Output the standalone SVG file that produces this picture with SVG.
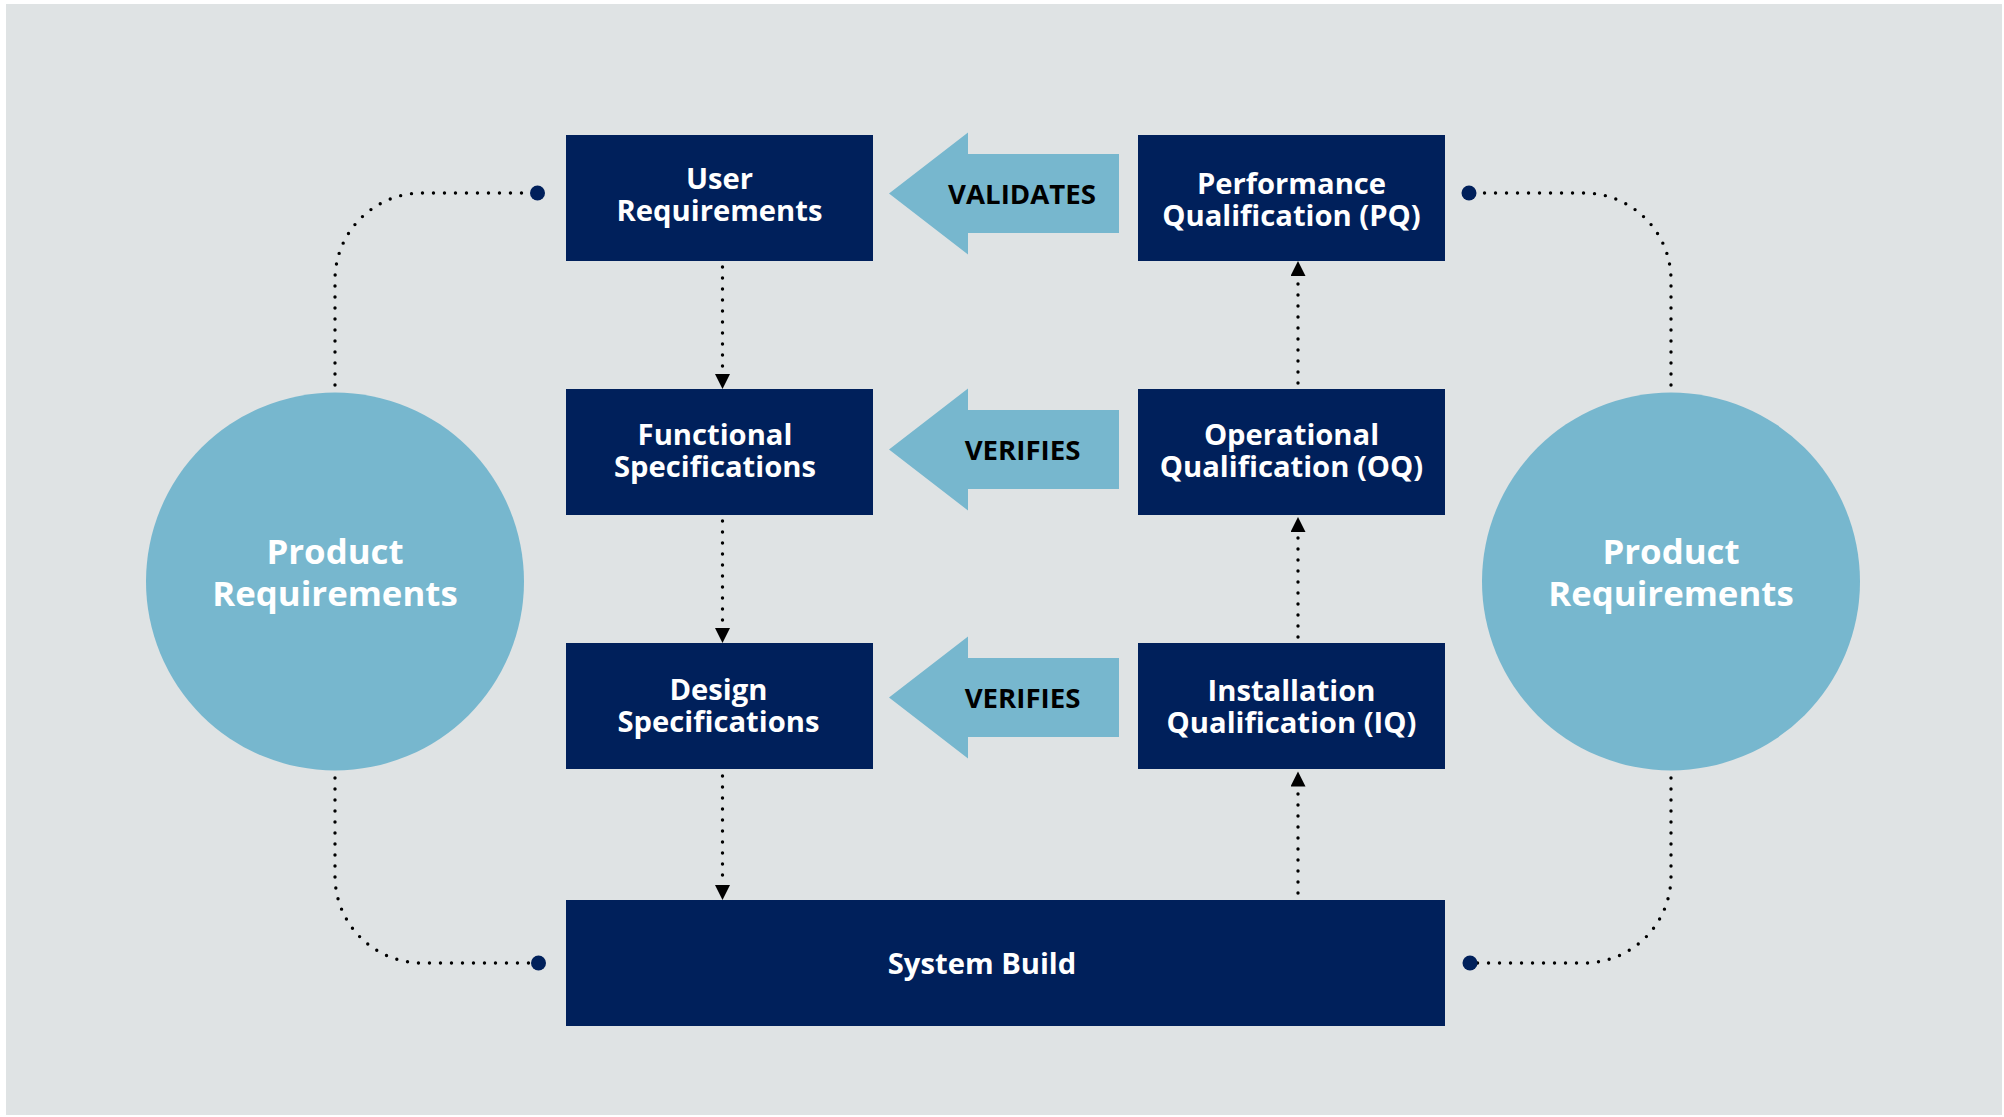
<svg xmlns="http://www.w3.org/2000/svg" width="2004" height="1117" viewBox="0 0 2004 1117">
<style>
.box{fill:#00205B}
.circ{fill:#77B7CE}
.big{fill:#77B7CE}
.t{font-family:"Open Sans","Noto Sans","Liberation Sans",sans-serif;font-weight:700;text-anchor:middle}
.w{fill:#FFFFFF;font-size:29.2px}
.pr{fill:#FFFFFF;font-size:34.8px}
.lbl{fill:#000000;font-size:27.6px}
.dot{fill:none;stroke:#000000;stroke-width:3.4;stroke-linecap:round;stroke-dasharray:0 11}
.end{fill:#00205B}
</style>
<defs>
<polygon id="bigArrow" points="0,0 79,-61 79,-39.5 230,-39.5 230,39.5 79,39.5 79,61"/>
<marker id="ah" markerUnits="userSpaceOnUse" markerWidth="16" markerHeight="16" refX="0" refY="7.5" orient="auto">
<path d="M0,0 L15,7.5 L0,15 Z" fill="#000000"/>
</marker>
</defs>
<rect x="6" y="4" width="1996" height="1111" fill="#DFE3E4"/>

<g id="connectors">
<path class="dot" d="M722.5 267 V 374" marker-end="url(#ah)"/>
<path class="dot" d="M722.5 521 V 628" marker-end="url(#ah)"/>
<path class="dot" d="M722.5 776 V 885" marker-end="url(#ah)"/>
<path class="dot" d="M1298 893 V 786.5" marker-end="url(#ah)"/>
<path class="dot" d="M1298 637 V 532" marker-end="url(#ah)"/>
<path class="dot" d="M1298 383 V 276" marker-end="url(#ah)"/>
<path class="dot" d="M335 385 V 280 C 335 232 374 193 422 193 H 530"/>
<path class="dot" d="M1671 385 V 280 C 1671 232 1632 193 1584 193 H 1476"/>
<path class="dot" d="M335 778 V 876 C 335 924 374 963 422 963 H 531"/>
<path class="dot" d="M1671 778 V 876 C 1671 924 1632 963 1584 963 H 1477"/>
<circle class="end" cx="537.5" cy="193" r="7.5"/>
<circle class="end" cx="1469" cy="193" r="7.5"/>
<circle class="end" cx="538.5" cy="963" r="7.5"/>
<circle class="end" cx="1470" cy="963" r="7.5"/>
</g>

<g id="validates">
<use href="#bigArrow" x="889" y="193.5" class="big"/>
<text class="t lbl" x="1022" y="204">VALIDATES</text>
</g>
<g id="verifies-1">
<use href="#bigArrow" x="889" y="449.5" class="big"/>
<text class="t lbl" x="1022.5" y="460">VERIFIES</text>
</g>
<g id="verifies-2">
<use href="#bigArrow" x="889" y="697.5" class="big"/>
<text class="t lbl" x="1022.5" y="708">VERIFIES</text>
</g>

<g id="user-requirements">
<rect class="box" x="566" y="135" width="307" height="126"/>
<text class="t w" x="719.5" y="189">User</text>
<text class="t w" x="719.5" y="221">Requirements</text>
</g>
<g id="functional-specifications">
<rect class="box" x="566" y="389" width="307" height="126"/>
<text class="t w" x="715" y="444.5">Functional</text>
<text class="t w" x="715" y="476.5">Specifications</text>
</g>
<g id="design-specifications">
<rect class="box" x="566" y="643" width="307" height="126"/>
<text class="t w" x="718.5" y="700">Design</text>
<text class="t w" x="718.5" y="732">Specifications</text>
</g>
<g id="system-build">
<rect class="box" x="566" y="900" width="879" height="126"/>
<text class="t w" x="982" y="974">System Build</text>
</g>
<g id="performance-qualification">
<rect class="box" x="1138" y="135" width="307" height="126"/>
<text class="t w" x="1291.5" y="193.5">Performance</text>
<text class="t w" x="1291.5" y="226">Qualification (PQ)</text>
</g>
<g id="operational-qualification">
<rect class="box" x="1138" y="389" width="307" height="126"/>
<text class="t w" x="1291.5" y="444.5">Operational</text>
<text class="t w" x="1291.5" y="476.5">Qualification (OQ)</text>
</g>
<g id="installation-qualification">
<rect class="box" x="1138" y="643" width="307" height="126"/>
<text class="t w" x="1291.5" y="701">Installation</text>
<text class="t w" x="1291.5" y="733">Qualification (IQ)</text>
</g>
<g id="product-requirements-left">
<circle class="circ" cx="335" cy="581.5" r="189"/>
<text class="t pr" x="335" y="564">Product</text>
<text class="t pr" x="335" y="606">Requirements</text>
</g>
<g id="product-requirements-right">
<circle class="circ" cx="1671" cy="581.5" r="189"/>
<text class="t pr" x="1671" y="564">Product</text>
<text class="t pr" x="1671" y="606">Requirements</text>
</g>
</svg>
